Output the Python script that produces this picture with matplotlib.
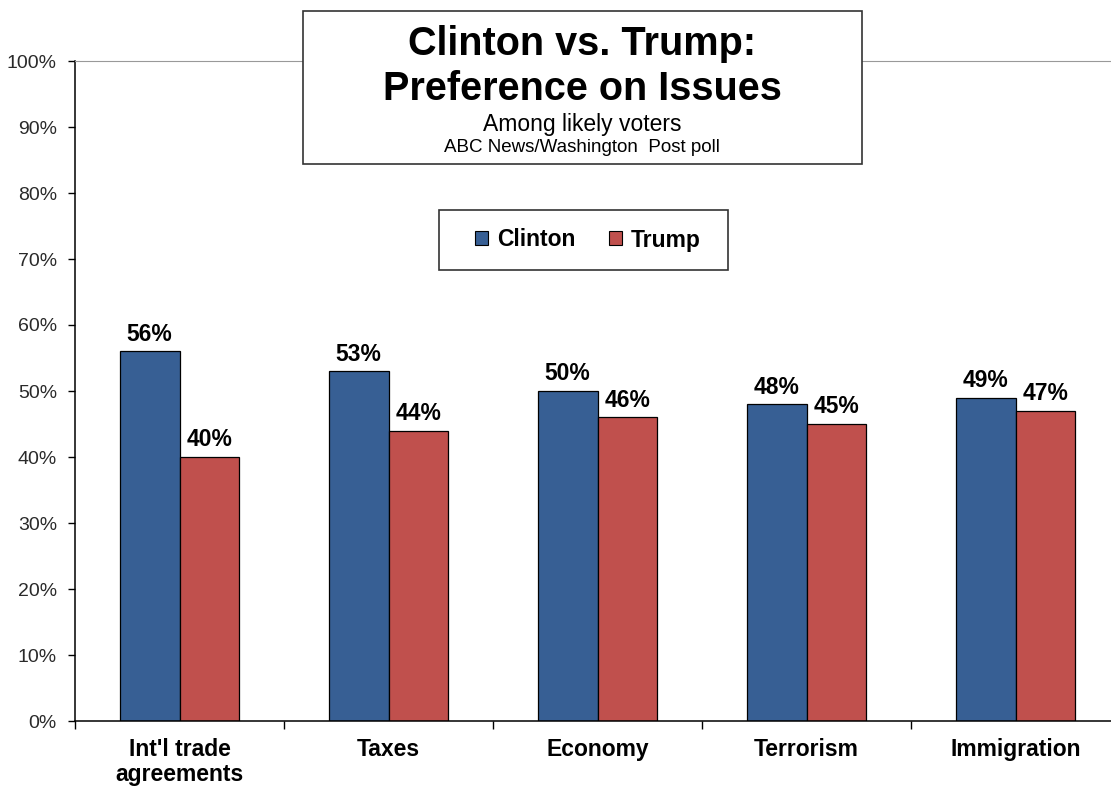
import numpy as np
import matplotlib
matplotlib.use("Agg")
import matplotlib.pyplot as plt
from matplotlib.patches import Rectangle, Patch
from matplotlib.ticker import FixedLocator, PercentFormatter

plt.rcParams['font.family'] = ['Liberation Sans', 'DejaVu Sans']

issues = ["Int'l trade\nagreements", "Taxes", "Economy", "Terrorism", "Immigration"]
clinton = [56, 53, 50, 48, 49]
trump = [40, 44, 46, 45, 47]
yticks = [0, 10, 20, 30, 40, 50, 60, 70, 80, 90, 100]

blue = '#375f94'
red = '#c0504d'

fig = plt.figure(figsize=(11.11, 7.87), dpi=100)
ax = fig.add_axes([75 / 1111, 1 - 721 / 787, 1045 / 1111, 660 / 787])

x = np.arange(len(issues))
w = 0.287
b1 = ax.bar(x - w / 2, clinton, w, color=blue, edgecolor='black', linewidth=0.9, zorder=2)
b2 = ax.bar(x + w / 2, trump, w, color=red, edgecolor='black', linewidth=0.9, zorder=2)

for bars in (b1, b2):
    for rect in bars:
        h = rect.get_height()
        ax.annotate(f'{h:.0f}%', (rect.get_x() + rect.get_width() / 2, h),
                    xytext=(0, 4), textcoords='offset points',
                    ha='center', va='bottom', fontsize=16.5, fontweight='bold')

ax.set_xlim(-0.5, len(issues) - 0.5)
ax.set_ylim(0, 100)
ax.set_yticks(yticks)
ax.yaxis.set_major_formatter(PercentFormatter(decimals=0))
ax.tick_params(axis='y', direction='out', length=5, width=1, pad=8,
               labelsize=14, labelcolor='#2a2a2a')

# ticks on group boundaries, labels at group centers
ax.xaxis.set_major_locator(FixedLocator(np.arange(-0.5, len(issues), 1.0)))
ax.xaxis.set_minor_locator(FixedLocator(x))
ax.set_xticklabels([])
ax.set_xticklabels(issues, minor=True)
ax.tick_params(axis='x', which='major', direction='out', length=6, width=1)
ax.tick_params(axis='x', which='minor', length=0, pad=12, labelsize=16.5)
for lbl in ax.get_xticklabels(minor=True):
    lbl.set_fontweight('bold')
    lbl.set_linespacing(1.15)

ax.spines['right'].set_visible(False)
ax.spines['top'].set_color('#999999')
ax.spines['left'].set_linewidth(1.1)
ax.spines['bottom'].set_linewidth(1.1)

# title box
fig.patches.append(Rectangle((303 / 1111, 1 - 164 / 787), 559 / 1111, 153 / 787,
                             transform=fig.transFigure, facecolor='white',
                             edgecolor='#333333', linewidth=1.2, zorder=5))
cx = 582 / 1111
fig.text(cx, 1 - 44 / 787, 'Clinton vs. Trump:', ha='center', va='center',
         fontsize=28.5, fontweight='bold', zorder=6)
fig.text(cx, 1 - 89 / 787, 'Preference on Issues', ha='center', va='center',
         fontsize=28.5, fontweight='bold', zorder=6)
fig.text(cx, 1 - 124 / 787, 'Among likely voters', ha='center', va='center',
         fontsize=16.5, zorder=6)
fig.text(cx, 1 - 148 / 787, 'ABC News/Washington  Post poll', ha='center', va='center',
         fontsize=13.5, zorder=6)

# legend box drawn separately so its padding can be wider than the legend's own
fig.patches.append(Rectangle((439 / 1111, 1 - 270 / 787), 289 / 1111, 60 / 787,
                             transform=fig.transFigure, facecolor='white',
                             edgecolor='#333333', linewidth=1.2, zorder=1))
handles = [Patch(facecolor=blue, edgecolor='black', linewidth=0.8, label='Clinton'),
           Patch(facecolor=red, edgecolor='black', linewidth=0.8, label='Trump')]
leg = fig.legend(handles=handles, loc='center', ncol=2,
                 bbox_to_anchor=(588 / 1111, 1 - 240 / 787),
                 prop={'size': 16.5, 'weight': 'bold'}, frameon=False,
                 handlelength=0.55, handleheight=0.55,
                 handletextpad=0.4, columnspacing=1.5, borderpad=0, borderaxespad=0)
leg.set_zorder(7)

fig.savefig('out.png', dpi=100)
